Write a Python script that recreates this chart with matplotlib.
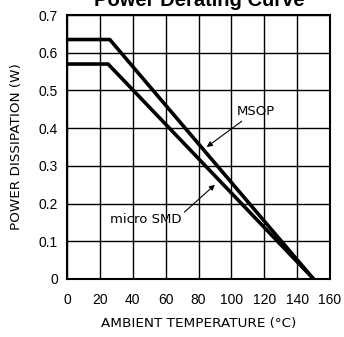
import matplotlib
matplotlib.use("Agg")
import matplotlib.pyplot as plt

# derating curves (temperature in C, power in W)
msop_temp = [0, 26, 150]
msop_power = [0.635, 0.635, 0.0]

smd_temp = [0, 25, 150]
smd_power = [0.57, 0.57, 0.0]

x_ticks = [0, 20, 40, 60, 80, 100, 120, 140, 160]
y_ticks = [0, 0.1, 0.2, 0.3, 0.4, 0.5, 0.6, 0.7]
y_tick_labels = ["0", "0.1", "0.2", "0.3", "0.4", "0.5", "0.6", "0.7"]

fig = plt.figure(figsize=(3.44, 3.37), dpi=100)
ax = fig.add_axes([67/344, 1 - 279/337, 263/344, 264/337])

ax.plot(msop_temp, msop_power, color="black", lw=2.6, solid_capstyle="butt")
ax.plot(smd_temp, smd_power, color="black", lw=2.6, solid_capstyle="butt")

ax.set_xlim(0, 160)
ax.set_ylim(0, 0.7)
ax.set_xticks(x_ticks)
ax.set_yticks(y_ticks)
ax.set_yticklabels(y_tick_labels)
ax.grid(True, color="black", lw=1.0)
ax.set_axisbelow(True)
ax.tick_params(length=0, labelsize=10)
ax.tick_params(axis="x", pad=10)
ax.tick_params(axis="y", pad=6.5)
for lab in ax.get_xticklabels() + ax.get_yticklabels():
    lab.set_family("Liberation Sans")
for s in ax.spines.values():
    s.set_linewidth(1.5)

lbl_font = dict(family="DejaVu Sans", fontsize=9.7)
ax.set_xlabel("AMBIENT TEMPERATURE (°C)", labelpad=7, **lbl_font)
ax.set_ylabel("POWER DISSIPATION (W)", labelpad=11, **lbl_font)

ax.annotate("MSOP", xy=(85, 0.35), xytext=(103, 0.445),
            ha="left", va="center", fontsize=9.5, family="DejaVu Sans",
            arrowprops=dict(arrowstyle="-|>", color="black", lw=0.8,
                            mutation_scale=8, shrinkA=1, shrinkB=0))
ax.annotate("micro SMD", xy=(90, 0.25), xytext=(48, 0.157),
            ha="center", va="center", fontsize=9.5, family="DejaVu Sans",
            arrowprops=dict(arrowstyle="-|>", color="black", lw=0.8,
                            mutation_scale=8, shrinkA=0, shrinkB=0,
                            relpos=(1.0, 0.9)))

# title sits partly above the top edge, as in the source image
fig.text(0.58, 0.982, "Power Derating Curve", ha="center", va="baseline",
         fontsize=14.5, fontweight="bold", family="Liberation Sans")

fig.savefig("out.png", dpi=100)
